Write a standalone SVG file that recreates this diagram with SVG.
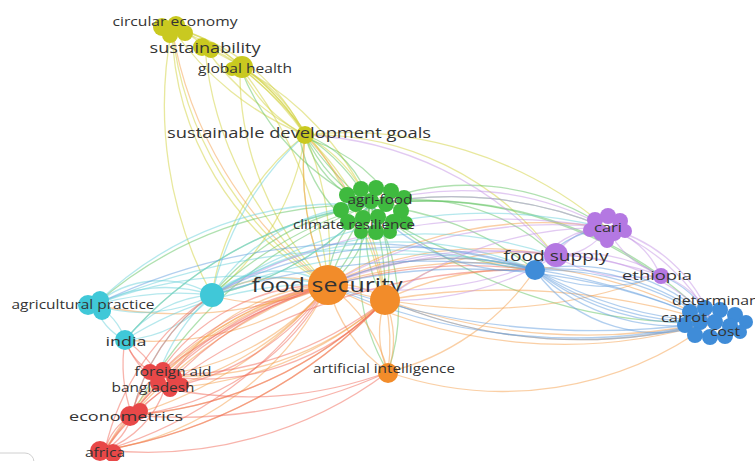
<svg xmlns="http://www.w3.org/2000/svg" width="755" height="461" viewBox="0 0 755 461">
<style>
.e path{fill:none;stroke-width:1.3;stroke-opacity:.5}
.y{stroke:#d2d23c}.g{stroke:#62c462}.o{stroke:#f5a04c}.c{stroke:#6cd2dc}.r{stroke:#f26a5a}.p{stroke:#c596e6}.b{stroke:#66a0e0}
text{font-family:"Open Sans","Liberation Sans",sans-serif;fill:#333;text-anchor:middle}
.ny{fill:#c9c920}.ng{fill:#3fba3f}.no{fill:#f28c2a}.nc{fill:#40c8d8}.nr{fill:#e84848}.np{fill:#b478e2}.nb{fill:#3f8cd8}
</style>
<rect width="755" height="461" fill="#fff"/>
<g id="connectors" class="e">
<path class="y" d="M172 28A60 60 0 0 1 205 48"/>
<path class="y" d="M172 28A120 120 0 0 1 240 67"/>
<path class="y" d="M172 28A200 200 0 0 1 305 135"/>
<path class="y" d="M172 28A300 300 0 0 0 305 135"/>
<path class="y" d="M172 28A250 250 0 0 1 305 135"/>
<path class="y" d="M205 48A80 80 0 0 1 240 67"/>
<path class="y" d="M205 48A200 200 0 0 1 305 135"/>
<path class="y" d="M205 48A300 300 0 0 0 305 135"/>
<path class="y" d="M240 67A150 150 0 0 1 305 135"/>
<path class="y" d="M240 67A150 150 0 0 0 305 135"/>
<path class="y" d="M240 67A300 300 0 0 1 305 135"/>
<path class="y" d="M172 28A300 300 0 0 0 328 285"/>
<path class="y" d="M172 28A350 350 0 0 0 328 285"/>
<path class="y" d="M172 28A400 400 0 0 0 212 295"/>
<path class="y" d="M205 48A350 350 0 0 0 328 285"/>
<path class="y" d="M240 67A300 300 0 0 0 328 285"/>
<path class="y" d="M240 67A400 400 0 0 1 328 285"/>
<path class="y" d="M240 67A300 300 0 0 1 370 205"/>
<path class="y" d="M305 135A150 150 0 0 1 370 205"/>
<path class="y" d="M305 135A300 300 0 0 0 328 285"/>
<path class="y" d="M305 135A300 300 0 0 1 328 285"/>
<path class="y" d="M305 135A250 250 0 0 1 385 300"/>
<path class="y" d="M305 135A300 300 0 0 1 555 256"/>
<path class="y" d="M305 135A400 400 0 0 1 607 228"/>
<path class="y" d="M305 135A250 250 0 0 0 212 295"/>
<path class="y" d="M305 135A250 250 0 0 1 212 295"/>
<path class="y" d="M240 67A400 400 0 0 1 385 300"/>
<path class="g" d="M370 205A100 100 0 0 0 328 285"/>
<path class="g" d="M370 205A100 100 0 0 1 328 285"/>
<path class="g" d="M370 205A200 200 0 0 1 328 285"/>
<path class="g" d="M370 205A300 300 0 0 0 328 285"/>
<path class="g" d="M370 205A120 120 0 0 1 385 300"/>
<path class="g" d="M370 205A120 120 0 0 0 385 300"/>
<path class="g" d="M370 205A250 250 0 0 1 385 300"/>
<path class="g" d="M370 205A250 250 0 0 1 607 228"/>
<path class="g" d="M370 205A400 400 0 0 1 607 228"/>
<path class="g" d="M370 205A400 400 0 0 1 712 322"/>
<path class="g" d="M370 205A500 500 0 0 0 712 322"/>
<path class="g" d="M370 205A400 400 0 0 1 660 275"/>
<path class="g" d="M370 205A300 300 0 0 1 535 270"/>
<path class="g" d="M370 205A300 300 0 0 0 535 270"/>
<path class="g" d="M370 205A200 200 0 0 1 555 256"/>
<path class="g" d="M370 205A250 250 0 0 0 212 295"/>
<path class="g" d="M370 205A400 400 0 0 0 212 295"/>
<path class="g" d="M370 205A300 300 0 0 1 212 295"/>
<path class="g" d="M370 205A400 400 0 0 0 95 305"/>
<path class="g" d="M370 205A200 200 0 0 1 388 372"/>
<path class="g" d="M370 205A200 200 0 0 0 388 372"/>
<path class="g" d="M370 205A100 100 0 0 1 305 135"/>
<path class="g" d="M370 205A100 100 0 0 0 305 135"/>
<path class="g" d="M370 205A200 200 0 0 0 305 135"/>
<path class="g" d="M370 205A150 150 0 0 1 305 135"/>
<path class="g" d="M370 205A300 300 0 0 1 305 135"/>
<path class="g" d="M370 205A250 250 0 0 1 240 67"/>
<path class="g" d="M370 205A400 400 0 0 0 125 340"/>
<path class="g" d="M370 205A450 450 0 0 0 132 415"/>
<path class="g" d="M340 215A150 150 0 0 1 300 140"/>
<path class="g" d="M400 215A150 150 0 0 0 310 140"/>
<path class="o" d="M328 285A150 150 0 0 0 212 295"/>
<path class="o" d="M328 285A150 150 0 0 1 212 295"/>
<path class="o" d="M328 285A400 400 0 0 1 95 305"/>
<path class="o" d="M328 285A300 300 0 0 1 125 340"/>
<path class="o" d="M328 285A250 250 0 0 1 158 375"/>
<path class="o" d="M328 285A350 350 0 0 0 158 375"/>
<path class="o" d="M328 285A300 300 0 0 1 165 388"/>
<path class="o" d="M328 285A200 200 0 0 0 165 388"/>
<path class="o" d="M328 285A300 300 0 0 0 132 415"/>
<path class="o" d="M328 285A400 400 0 0 1 132 415"/>
<path class="o" d="M328 285A350 350 0 0 0 105 450"/>
<path class="o" d="M328 285A450 450 0 0 0 105 450"/>
<path class="o" d="M328 285A300 300 0 0 1 105 450"/>
<path class="o" d="M328 285A150 150 0 0 1 388 372"/>
<path class="o" d="M328 285A150 150 0 0 0 388 372"/>
<path class="o" d="M328 285A80 80 0 0 1 385 300"/>
<path class="o" d="M328 285A300 300 0 0 1 535 270"/>
<path class="o" d="M328 285A350 350 0 0 1 555 256"/>
<path class="o" d="M328 285A500 500 0 0 1 712 322"/>
<path class="o" d="M328 285A500 500 0 0 0 712 322"/>
<path class="o" d="M328 285A500 500 0 0 0 660 275"/>
<path class="o" d="M328 285A400 400 0 0 1 607 228"/>
<path class="o" d="M328 285A300 300 0 0 1 305 135"/>
<path class="o" d="M328 285A400 400 0 0 1 172 28"/>
<path class="o" d="M385 300A100 100 0 0 1 388 372"/>
<path class="o" d="M385 300A100 100 0 0 0 388 372"/>
<path class="o" d="M385 300A200 200 0 0 1 388 372"/>
<path class="o" d="M385 300A500 500 0 0 0 712 322"/>
<path class="o" d="M385 300A600 600 0 0 0 712 322"/>
<path class="o" d="M385 300A700 700 0 0 1 712 322"/>
<path class="o" d="M385 300A300 300 0 0 1 535 270"/>
<path class="o" d="M385 300A200 200 0 0 1 555 256"/>
<path class="o" d="M385 300A400 400 0 0 1 132 415"/>
<path class="o" d="M385 300A500 500 0 0 1 105 450"/>
<path class="o" d="M385 300A350 350 0 0 1 165 388"/>
<path class="o" d="M385 300A300 300 0 0 1 158 375"/>
<path class="o" d="M385 300A300 300 0 0 0 305 135"/>
<path class="o" d="M388 372A250 250 0 0 0 535 270"/>
<path class="o" d="M388 372A350 350 0 0 0 712 322"/>
<path class="c" d="M212 295A150 150 0 0 0 95 305"/>
<path class="c" d="M212 295A150 150 0 0 1 95 305"/>
<path class="c" d="M212 295A300 300 0 0 0 95 305"/>
<path class="c" d="M212 295A100 100 0 0 0 95 305"/>
<path class="c" d="M212 295A120 120 0 0 1 125 340"/>
<path class="c" d="M212 295A120 120 0 0 0 125 340"/>
<path class="c" d="M95 305A60 60 0 0 1 125 340"/>
<path class="c" d="M95 305A60 60 0 0 0 125 340"/>
<path class="c" d="M212 295A350 350 0 0 1 535 270"/>
<path class="c" d="M212 295A500 500 0 0 1 535 270"/>
<path class="c" d="M212 295A400 400 0 0 1 555 256"/>
<path class="c" d="M212 295A500 500 0 0 1 607 228"/>
<path class="c" d="M212 295A200 200 0 0 1 370 205"/>
<path class="c" d="M212 295A300 300 0 0 0 370 205"/>
<path class="c" d="M212 295A100 100 0 0 1 328 285"/>
<path class="c" d="M95 305A400 400 0 0 1 328 285"/>
<path class="c" d="M95 305A350 350 0 0 1 370 205"/>
<path class="c" d="M95 305A700 700 0 0 1 535 270"/>
<path class="c" d="M125 340A350 350 0 0 1 328 285"/>
<path class="c" d="M125 340A400 400 0 0 1 370 205"/>
<path class="c" d="M212 295A200 200 0 0 0 158 375"/>
<path class="c" d="M212 295A200 200 0 0 0 132 415"/>
<path class="c" d="M212 295A300 300 0 0 1 305 135"/>
<path class="r" d="M158 375A300 300 0 0 1 328 285"/>
<path class="r" d="M158 375A200 200 0 0 1 328 285"/>
<path class="r" d="M165 388A250 250 0 0 0 328 285"/>
<path class="r" d="M165 388A350 350 0 0 1 328 285"/>
<path class="r" d="M132 415A350 350 0 0 1 328 285"/>
<path class="r" d="M132 415A250 250 0 0 0 328 285"/>
<path class="r" d="M105 450A400 400 0 0 1 328 285"/>
<path class="r" d="M105 450A400 400 0 0 0 328 285"/>
<path class="r" d="M158 375A350 350 0 0 0 385 300"/>
<path class="r" d="M158 375A250 250 0 0 0 385 300"/>
<path class="r" d="M132 415A400 400 0 0 0 385 300"/>
<path class="r" d="M105 450A500 500 0 0 0 385 300"/>
<path class="r" d="M158 375A60 60 0 0 0 132 415"/>
<path class="r" d="M132 415A60 60 0 0 1 105 450"/>
<path class="r" d="M132 415A60 60 0 0 0 105 450"/>
<path class="r" d="M165 388A100 100 0 0 1 105 450"/>
<path class="r" d="M158 375A60 60 0 0 1 125 340"/>
<path class="r" d="M158 375A100 100 0 0 0 125 340"/>
<path class="r" d="M165 388A100 100 0 0 1 125 340"/>
<path class="r" d="M132 415A150 150 0 0 1 125 340"/>
<path class="r" d="M105 450A250 250 0 0 1 212 295"/>
<path class="r" d="M132 415A200 200 0 0 1 212 295"/>
<path class="r" d="M158 375A500 500 0 0 1 535 270"/>
<path class="r" d="M132 415A600 600 0 0 1 535 270"/>
<path class="r" d="M165 388A400 400 0 0 0 388 372"/>
<path class="r" d="M132 415A500 500 0 0 0 388 372"/>
<path class="r" d="M105 450A400 400 0 0 0 388 372"/>
<path class="r" d="M105 450A300 300 0 0 1 165 388"/>
<path class="p" d="M555 256A60 60 0 0 1 607 228"/>
<path class="p" d="M555 256A60 60 0 0 0 607 228"/>
<path class="p" d="M555 256A150 150 0 0 1 660 275"/>
<path class="p" d="M555 256A150 150 0 0 0 660 275"/>
<path class="p" d="M555 256A200 200 0 0 1 712 322"/>
<path class="p" d="M607 228A80 80 0 0 1 660 275"/>
<path class="p" d="M607 228A100 100 0 0 0 660 275"/>
<path class="p" d="M607 228A80 80 0 0 0 535 270"/>
<path class="p" d="M607 228A150 150 0 0 1 712 322"/>
<path class="p" d="M607 228A200 200 0 0 1 712 322"/>
<path class="p" d="M660 275A80 80 0 0 1 712 322"/>
<path class="p" d="M607 228A400 400 0 0 0 370 205"/>
<path class="p" d="M607 228A300 300 0 0 0 370 205"/>
<path class="p" d="M607 228A450 450 0 0 0 328 285"/>
<path class="p" d="M607 228A350 350 0 0 0 385 300"/>
<path class="p" d="M660 275A500 500 0 0 0 328 285"/>
<path class="p" d="M555 256A400 400 0 0 0 328 285"/>
<path class="p" d="M555 256A400 400 0 0 1 328 285"/>
<path class="p" d="M555 256A300 300 0 0 1 385 300"/>
<path class="p" d="M555 256A350 350 0 0 0 305 135"/>
<path class="p" d="M607 228A600 600 0 0 0 212 295"/>
<path class="b" d="M535 270A200 200 0 0 1 712 322"/>
<path class="b" d="M535 270A200 200 0 0 0 712 322"/>
<path class="b" d="M535 270A300 300 0 0 1 712 322"/>
<path class="b" d="M535 270A300 300 0 0 0 712 322"/>
<path class="b" d="M535 270A250 250 0 0 1 712 322"/>
<path class="b" d="M535 270A250 250 0 0 0 712 322"/>
<path class="b" d="M535 270A400 400 0 0 0 712 322"/>
<path class="b" d="M535 270A150 150 0 0 0 712 322"/>
<path class="b" d="M535 270A150 150 0 0 0 660 275"/>
<path class="b" d="M535 270A100 100 0 0 1 607 228"/>
<path class="b" d="M712 322A600 600 0 0 0 328 285"/>
<path class="b" d="M712 322A600 600 0 0 1 328 285"/>
<path class="b" d="M712 322A800 800 0 0 1 328 285"/>
<path class="b" d="M712 322A500 500 0 0 1 385 300"/>
<path class="b" d="M712 322A700 700 0 0 0 212 295"/>
<path class="b" d="M535 270A300 300 0 0 0 328 285"/>
<path class="b" d="M535 270A400 400 0 0 0 212 295"/>
<path class="b" d="M535 270A200 200 0 0 1 370 205"/>
<path class="b" d="M535 270A600 600 0 0 0 95 305"/>
<path class="b" d="M712 322A100 100 0 0 0 660 275"/>
</g>
<g id="node-circular-economy"><circle class="ny" cx="162" cy="27" r="9"/><circle class="ny" cx="176" cy="25" r="9"/><circle class="ny" cx="185" cy="33" r="8"/><circle class="ny" cx="170" cy="35" r="8"/><text x="175" y="26" font-size="12" textLength="125" lengthAdjust="spacingAndGlyphs">circular economy</text></g>
<g id="node-sustainability"><circle class="ny" cx="202" cy="47" r="9"/><circle class="ny" cx="211" cy="50" r="8"/><text x="205" y="53" font-size="14" textLength="111" lengthAdjust="spacingAndGlyphs">sustainability</text></g>
<g id="node-global-health"><circle class="ny" cx="242" cy="67" r="11"/><circle class="ny" cx="232" cy="69" r="7"/><text x="245" y="73" font-size="12" textLength="94" lengthAdjust="spacingAndGlyphs">global health</text></g>
<g id="node-sdg"><circle class="ny" cx="305" cy="135" r="9"/><text x="299" y="138" font-size="14" textLength="264" lengthAdjust="spacingAndGlyphs">sustainable development goals</text></g>
<g id="node-agri-food">
<circle class="ng" cx="347" cy="195" r="8"/><circle class="ng" cx="361" cy="189" r="8"/><circle class="ng" cx="376" cy="188" r="8"/><circle class="ng" cx="391" cy="191" r="8"/><circle class="ng" cx="404" cy="198" r="8"/>
<circle class="ng" cx="341" cy="210" r="8"/><circle class="ng" cx="356" cy="204" r="8"/><circle class="ng" cx="371" cy="201" r="8"/><circle class="ng" cx="386" cy="204" r="8"/><circle class="ng" cx="401" cy="211" r="8"/>
<circle class="ng" cx="348" cy="222" r="8"/><circle class="ng" cx="363" cy="218" r="8"/><circle class="ng" cx="378" cy="217" r="8"/><circle class="ng" cx="393" cy="222" r="8"/><circle class="ng" cx="406" cy="223" r="7"/>
<circle class="ng" cx="361" cy="232" r="7"/><circle class="ng" cx="376" cy="232" r="8"/><circle class="ng" cx="390" cy="232" r="7"/>
<text x="380" y="204" font-size="12" textLength="65" lengthAdjust="spacingAndGlyphs">agri-food</text><text x="354" y="229" font-size="12" textLength="122" lengthAdjust="spacingAndGlyphs">climate resilience</text></g>
<g id="node-food-security"><circle class="no" cx="328" cy="285" r="20"/><text x="327" y="292" font-size="20" textLength="151" lengthAdjust="spacingAndGlyphs">food security</text></g>
<g id="node-orange-2"><circle class="no" cx="385" cy="300" r="15"/></g>
<g id="node-artificial-intelligence"><circle class="no" cx="388" cy="373" r="10"/><text x="384" y="373" font-size="12" textLength="142" lengthAdjust="spacingAndGlyphs">artificial intelligence</text></g>
<g id="node-cyan"><circle class="nc" cx="212" cy="295" r="12"/></g>
<g id="node-agricultural-practice"><circle class="nc" cx="88" cy="305" r="10"/><circle class="nc" cx="100" cy="300" r="9"/><circle class="nc" cx="102" cy="311" r="9"/><text x="83" y="309" font-size="12" textLength="143" lengthAdjust="spacingAndGlyphs">agricultural practice</text></g>
<g id="node-india"><circle class="nc" cx="125" cy="340" r="10"/><text x="126" y="346" font-size="13.5" textLength="41" lengthAdjust="spacingAndGlyphs">india</text></g>
<g id="node-foreign-aid"><circle class="nr" cx="150" cy="372" r="8"/><circle class="nr" cx="163" cy="370" r="8"/><circle class="nr" cx="174" cy="377" r="8"/><circle class="nr" cx="158" cy="383" r="8"/><circle class="nr" cx="170" cy="389" r="8"/><circle class="nr" cx="182" cy="385" r="7"/><text x="173" y="376" font-size="12" textLength="77" lengthAdjust="spacingAndGlyphs">foreign aid</text></g>
<g id="node-bangladesh"><text x="153" y="392" font-size="12" textLength="83" lengthAdjust="spacingAndGlyphs">bangladesh</text></g>
<g id="node-econometrics"><circle class="nr" cx="130" cy="416" r="10"/><circle class="nr" cx="140" cy="411" r="8"/><text x="126" y="421" font-size="13.5" textLength="114" lengthAdjust="spacingAndGlyphs">econometrics</text></g>
<g id="node-africa"><circle class="nr" cx="100" cy="451" r="10"/><circle class="nr" cx="113" cy="453" r="9"/><text x="105" y="457" font-size="12" textLength="40" lengthAdjust="spacingAndGlyphs">africa</text></g>
<g id="node-cari"><circle class="np" cx="595" cy="220" r="8"/><circle class="np" cx="608" cy="216" r="8"/><circle class="np" cx="620" cy="221" r="8"/><circle class="np" cx="590" cy="230" r="7"/><circle class="np" cx="601" cy="233" r="8"/><circle class="np" cx="614" cy="233" r="8"/><circle class="np" cx="625" cy="231" r="7"/><circle class="np" cx="607" cy="241" r="7"/><text x="608" y="232" font-size="12.5" textLength="28" lengthAdjust="spacingAndGlyphs">cari</text></g>
<g id="node-food-supply"><circle class="np" cx="556" cy="255" r="12"/><circle class="nb" cx="535" cy="270" r="10"/><text x="556" y="261" font-size="14.5" textLength="105" lengthAdjust="spacingAndGlyphs">food supply</text></g>
<g id="node-ethiopia"><circle class="np" cx="661" cy="276" r="8"/><text x="657" y="280" font-size="13.5" textLength="70" lengthAdjust="spacingAndGlyphs">ethiopia</text></g>
<g id="node-determinants"><circle class="nb" cx="690" cy="312" r="8"/><circle class="nb" cx="705" cy="308" r="8"/><circle class="nb" cx="720" cy="310" r="8"/><circle class="nb" cx="735" cy="315" r="8"/><circle class="nb" cx="746" cy="322" r="7"/><circle class="nb" cx="685" cy="325" r="8"/><circle class="nb" cx="700" cy="322" r="8"/><circle class="nb" cx="715" cy="322" r="8"/><circle class="nb" cx="730" cy="326" r="8"/><circle class="nb" cx="695" cy="335" r="8"/><circle class="nb" cx="710" cy="337" r="8"/><circle class="nb" cx="725" cy="336" r="8"/><circle class="nb" cx="740" cy="332" r="7"/>
<text x="672" y="305" font-size="12.5" textLength="100" lengthAdjust="spacingAndGlyphs" style="text-anchor:start">determinants</text><text x="684" y="322" font-size="12.5" textLength="46" lengthAdjust="spacingAndGlyphs">carrot</text><text x="725" y="336" font-size="12.5" textLength="30" lengthAdjust="spacingAndGlyphs">cost</text></g>
<rect x="-10" y="453" width="44" height="20" rx="9" fill="#fff" stroke="#d0d0d0"/>
</svg>
